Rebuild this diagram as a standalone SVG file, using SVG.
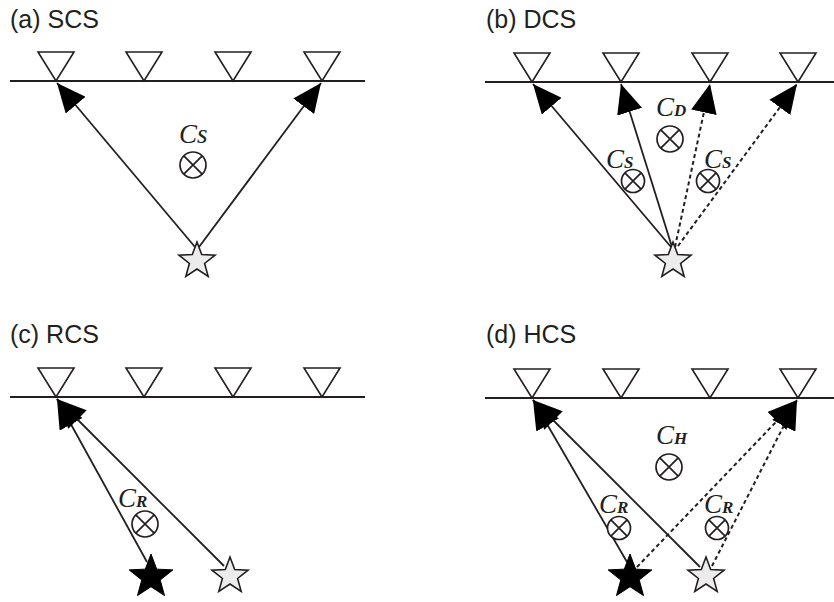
<svg xmlns="http://www.w3.org/2000/svg" width="834" height="602" viewBox="0 0 834 602">
<style>
.lbl{font-family:"Liberation Sans",Arial,sans-serif;font-size:25px;fill:#231f20}
.c{font-family:"Liberation Serif","Times New Roman",serif;font-style:italic;font-size:27px;fill:#231f20}
.sub{font-size:17px;font-weight:bold}
.gl{stroke:#231f20;stroke-width:1.8;fill:none}
.rc{fill:#fff;stroke:#231f20;stroke-width:1.6}
.ray{stroke:#231f20;stroke-width:1.8;fill:none;marker-end:url(#ah)}
.dot{stroke:#231f20;stroke-width:2;fill:none;stroke-dasharray:4 3;marker-end:url(#ah)}
.ox circle{fill:#fff;stroke:#231f20;stroke-width:1.7}
.ox path{stroke:#231f20;stroke-width:1.7}
</style>
<defs>
<marker id="ah" viewBox="0 0 29 26" refX="29" refY="13" markerWidth="29" markerHeight="26" markerUnits="userSpaceOnUse" orient="auto">
<path d="M0,0 L29,13 L0,26 Z" fill="#000"/>
</marker>
<path id="rv" class="rc" d="M-18,-29 L18,-29 L0,0 Z"/>
<path id="sg" d="M0,-19 L4.70,-6.47 L18.07,-5.87 L7.61,2.47 L11.17,15.37 L0,8 L-11.17,15.37 L-7.61,2.47 L-18.07,-5.87 L-4.70,-6.47 Z" fill="#ececec" stroke="#231f20" stroke-width="1.6"/>
<path id="sb" d="M0,-23 L5.70,-7.85 L21.87,-7.11 L9.23,3.00 L13.52,18.61 L0,9.7 L-13.52,18.61 L-9.23,3.00 L-21.87,-7.11 L-5.70,-7.85 Z" fill="#000" stroke="#000" stroke-width="1"/>
<g id="oxL" class="ox"><circle r="13"/><path d="M-9.2,-9.2 L9.2,9.2 M-9.2,9.2 L9.2,-9.2"/></g>
<g id="oxS" class="ox"><circle r="11.5"/><path d="M-8.1,-8.1 L8.1,8.1 M-8.1,8.1 L8.1,-8.1"/></g>
</defs>

<g id="labels">
<text class="lbl" x="10" y="28">(a) SCS</text>
<text class="lbl" x="486" y="28">(b) DCS</text>
<text class="lbl" x="10" y="343">(c) RCS</text>
<text class="lbl" x="486" y="343">(d) HCS</text>
</g>

<g id="ground">
<line class="gl" x1="10" y1="81" x2="365" y2="81"/>
<line class="gl" x1="485" y1="82" x2="834" y2="82"/>
<line class="gl" x1="10" y1="397" x2="365" y2="397"/>
<line class="gl" x1="485" y1="398" x2="834" y2="398"/>
</g>

<g id="connectors">
<line class="ray" x1="195" y1="247" x2="57" y2="83"/>
<line class="ray" x1="199" y1="247" x2="321" y2="83"/>

<line class="ray" x1="671" y1="247" x2="533" y2="84"/>
<line class="ray" x1="672" y1="247" x2="621" y2="84"/>
<line class="dot" x1="675" y1="247" x2="710" y2="84"/>
<line class="dot" x1="678" y1="246" x2="797" y2="84"/>

<line class="ray" x1="147" y1="562" x2="57" y2="399"/>
<line class="ray" x1="224" y1="566" x2="57" y2="399"/>

<line class="ray" x1="627" y1="562" x2="533" y2="400"/>
<line class="ray" x1="700" y1="567" x2="533" y2="400"/>
<line class="dot" x1="637" y1="567" x2="797" y2="400"/>
<line class="dot" x1="712" y1="566" x2="797" y2="400"/>
</g>

<g id="receivers-a"><use href="#rv" x="56" y="81"/><use href="#rv" x="144" y="81"/><use href="#rv" x="233" y="81"/><use href="#rv" x="322" y="81"/></g>
<g id="receivers-b"><use href="#rv" x="532" y="82"/><use href="#rv" x="621" y="82"/><use href="#rv" x="710" y="82"/><use href="#rv" x="798" y="82"/></g>
<g id="receivers-c"><use href="#rv" x="56" y="397"/><use href="#rv" x="144" y="397"/><use href="#rv" x="233" y="397"/><use href="#rv" x="322" y="397"/></g>
<g id="receivers-d"><use href="#rv" x="532" y="398"/><use href="#rv" x="621" y="398"/><use href="#rv" x="710" y="398"/><use href="#rv" x="798" y="398"/></g>

<g id="source-a"><use href="#sg" x="197" y="261"/></g>
<g id="source-b"><use href="#sg" x="673" y="261"/></g>
<g id="source-c-black"><use href="#sb" x="151" y="577"/></g>
<g id="source-c-grey"><use href="#sg" x="230" y="576"/></g>
<g id="source-d-black"><use href="#sb" x="630" y="577"/></g>
<g id="source-d-grey"><use href="#sg" x="706" y="576"/></g>

<g id="cs-a"><text class="c" x="179" y="143">Cs</text><use href="#oxL" x="193" y="165"/></g>
<g id="cd-b"><text class="c" x="656" y="116">C<tspan class="sub">D</tspan></text><use href="#oxL" x="670" y="139"/></g>
<g id="cs-b1"><text class="c" x="606" y="168">C<tspan class="sub">S</tspan></text><use href="#oxS" x="633" y="181"/></g>
<g id="cs-b2"><text class="c" x="704" y="168">C<tspan class="sub">S</tspan></text><use href="#oxS" x="708" y="181"/></g>
<g id="cr-c"><text class="c" x="118" y="507">C<tspan class="sub">R</tspan></text><use href="#oxL" x="145" y="524"/></g>
<g id="ch-d"><text class="c" x="656" y="444">C<tspan class="sub">H</tspan></text><use href="#oxL" x="669" y="467"/></g>
<g id="cr-d1"><text class="c" x="599" y="513">C<tspan class="sub">R</tspan></text><use href="#oxS" x="619" y="528"/></g>
<g id="cr-d2"><text class="c" x="704" y="513">C<tspan class="sub">R</tspan></text><use href="#oxS" x="717" y="528"/></g>
</svg>
